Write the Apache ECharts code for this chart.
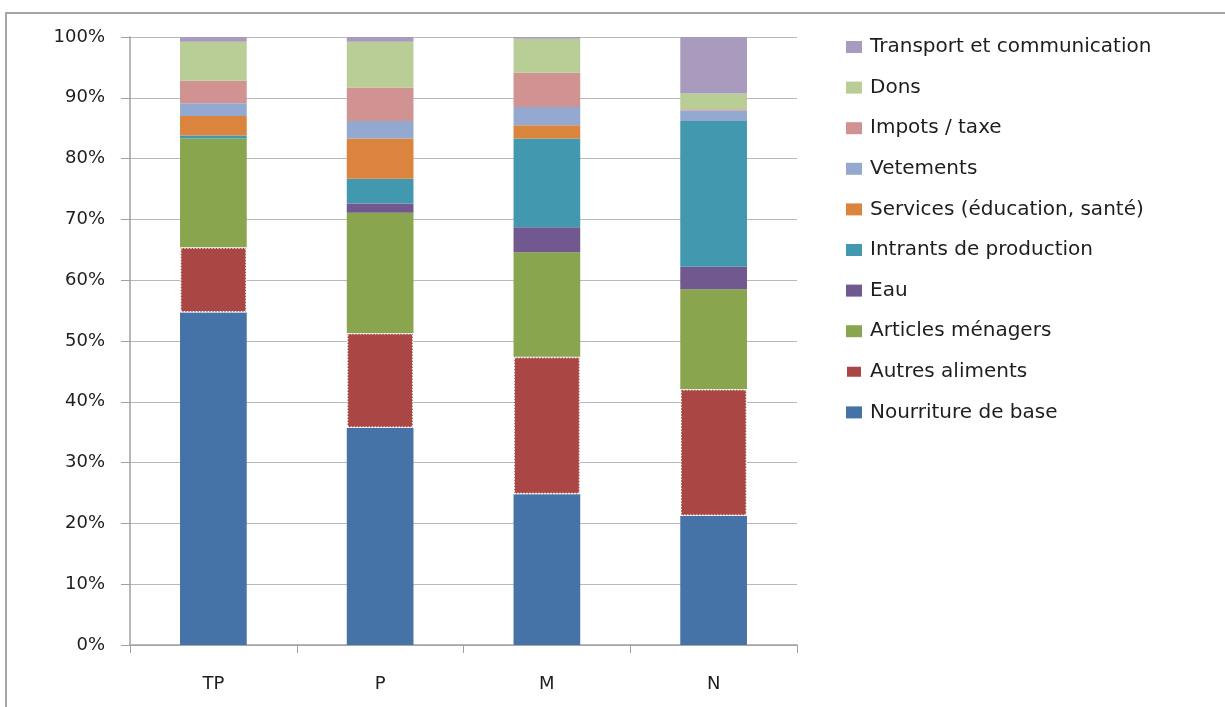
<!DOCTYPE html>
<html>
<head>
<meta charset="utf-8">
<script src="https://cdn.jsdelivr.net/npm/echarts@6/dist/echarts.min.js"></script>
<style>
  html, body { margin: 0; padding: 0; background: #fff; }
  #frame { position: absolute; left: 5px; top: 12px; width: 1220px; height: 695px;
           border-left: 2px solid #a6a6a6; border-top: 2px solid #a6a6a6; box-sizing: border-box; }
  #chart { position: absolute; left: 0; top: 0; width: 1225px; height: 707px; }
</style>
</head>
<body>
<div id="frame"></div>
<div id="chart"></div>
<script>
// Income groups
const categories = ['TP', 'P', 'M', 'N'];

// Share of spending per category (%), stacked bottom to top
const nourriture = [54.7, 35.7, 24.8, 21.2];
const autresAliments = [10.7, 15.6, 22.6, 20.9];
const articlesMenagers = [17.9, 19.8, 17.2, 16.4];
const eau = [0.0, 1.5, 4.1, 3.7];
const intrants = [0.5, 4.1, 14.6, 24.0];
const services = [3.2, 6.6, 2.2, 0.0];
const vetements = [2.1, 2.9, 3.0, 1.7];
const impots = [3.7, 5.5, 5.6, 0.2];
const dons = [6.4, 7.5, 5.6, 2.6];
const transport = [0.8, 0.8, 0.3, 9.3];

const yTicks = [0, 10, 20, 30, 40, 50, 60, 70, 80, 90, 100];

const seriesDefs = [
  { name: 'Nourriture de base', data: nourriture, color: '#4572A7' },
  { name: 'Autres aliments', data: autresAliments, color: '#AA4643', dotted: true },
  { name: 'Articles ménagers', data: articlesMenagers, color: '#89A54E' },
  { name: 'Eau', data: eau, color: '#71588F' },
  { name: 'Intrants de production', data: intrants, color: '#4198AF' },
  { name: 'Services (éducation, santé)', data: services, color: '#DB843D' },
  { name: 'Vetements', data: vetements, color: '#93A9CF' },
  { name: 'Impots / taxe', data: impots, color: '#D19392' },
  { name: 'Dons', data: dons, color: '#B9CD96' },
  { name: 'Transport et communication', data: transport, color: '#A99BBD' }
];

const chart = echarts.init(document.getElementById('chart'), null, { renderer: 'canvas' });

const font = 'DejaVu Sans, Verdana, sans-serif';

chart.setOption({
  animation: false,
  backgroundColor: 'transparent',
  grid: { left: 130, right: 428, top: 37, bottom: 62, containLabel: false },
  legend: {
    orient: 'vertical',
    left: 840,
    top: 32,
    itemWidth: 16,
    itemHeight: 12,
    itemGap: 20.6,
    icon: 'rect',
    data: seriesDefs.map(s => s.name).reverse(),
    textStyle: { fontFamily: font, fontSize: 20, lineHeight: 20, color: '#1e1e1e', padding: [0, 0, 0, 3] }
  },
  xAxis: {
    type: 'category',
    data: categories,
    axisLine: { lineStyle: { color: '#a0a0a0', width: 1.5 } },
    axisTick: { show: true, length: 8, lineStyle: { color: '#a0a0a0' } },
    axisLabel: { fontFamily: font, fontSize: 18, color: '#1e1e1e', margin: 30 }
  },
  yAxis: {
    type: 'value',
    min: yTicks[0],
    max: yTicks[yTicks.length - 1],
    interval: 10,
    axisLine: { show: true, lineStyle: { color: '#a0a0a0', width: 1.5 } },
    axisTick: { show: true, length: 9, inside: false, lineStyle: { color: '#a0a0a0' } },
    axisLabel: { fontFamily: font, fontSize: 18, color: '#1e1e1e', margin: 25, formatter: '{value}%' },
    splitLine: { lineStyle: { color: '#b8b8b8', width: 1.2 } }
  },
  series: seriesDefs.map(s => ({
    name: s.name,
    type: 'bar',
    stack: 'total',
    barWidth: '40%',
    data: s.data,
    itemStyle: s.dotted
      ? { color: s.color, borderColor: '#ffffff', borderWidth: 1.5, borderType: 'dotted' }
      : { color: s.color }
  }))
});
</script>
</body>
</html>
